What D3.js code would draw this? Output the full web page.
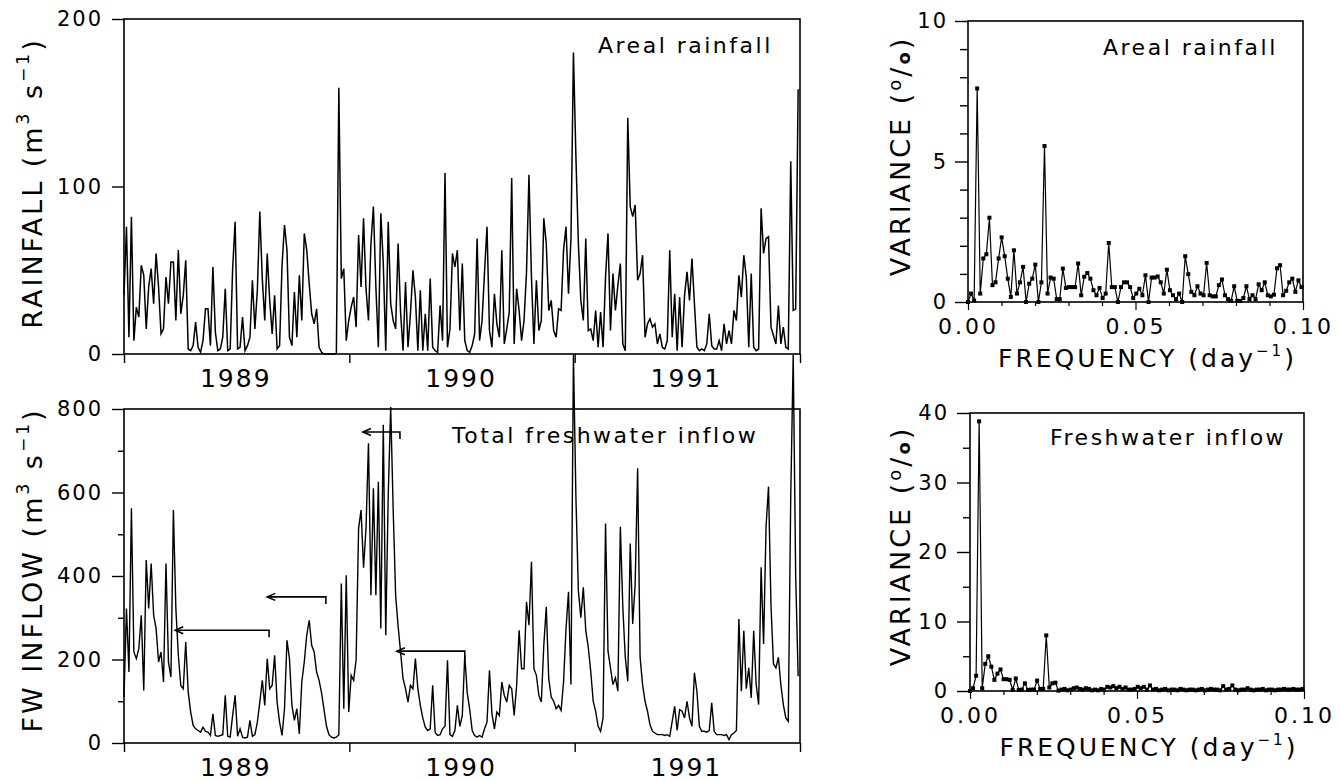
<!DOCTYPE html>
<html>
<head>
<meta charset="utf-8">
<script src="https://cdn.jsdelivr.net/npm/d3@7"></script>
<style>
  body { margin: 0; background: #fff; }
  svg text { font-family: "DejaVu Sans", sans-serif; fill: #000; }
</style>
</head>
<body>
<div id="chart"></div>
<script>
// ---- data ----
// daily series sampled every 4 days from 1 Jan 1989
const startDate = new Date(1989, 0, 1);
const stepDays = 4;

const rainfall = [
  35,76,10,82,8,28,22,53,47,15, 40,51,30,60,40,12,15,46,30,55,
  55,20,62,24,35,56,3,2,5,19, 4,1,8,27,27,5,52,13,2,3,
  10,39,2,3,51,79,3,4,22,2, 5,10,44,15,38,85,45,20,60,32,
  12,35,3,5,53,77,62,10,5,37, 10,47,20,72,62,42,24,18,27,4,
  1,0,0,0,0,0,0,159,45,51, 8,20,28,34,16,71,40,81,39,20,
  66,88,40,4,84,54,2,79,30,20, 15,66,25,2,43,4,24,50,34,2,
  38,2,24,2,45,4,2,1,29,8, 108,4,15,60,52,62,14,54,8,2,
  1,5,12,69,8,20,49,76,14,4, 36,18,10,62,6,15,25,105,6,39,
  26,8,20,49,107,46,6,44,14,20, 81,66,26,32,14,10,27,26,62,76,
  36,69,180,118,66,32,20,69,14,15, 8,26,4,25,4,46,72,14,48,26,
  41,54,6,2,141,88,82,89,44,48, 59,10,18,21,16,18,6,12,4,3,
  8,62,10,36,2,34,4,35,49,32, 57,30,4,2,3,2,6,24,5,3,
  3,8,2,18,6,14,6,26,20,47, 34,59,46,4,48,4,2,3,87,60,
  69,70,16,11,6,29,6,16,4,3, 115,26,27,158
];

const inflow = [
  110,322,170,562,218,202,226,306,126,438, 322,430,306,274,194,218,146,430,194,158,
  558,322,210,138,130,242,122,74,42,34, 30,26,38,28,26,18,70,18,16,18,
  20,114,16,14,66,114,16,34,14,12, 14,54,16,20,50,98,150,90,202,130,
  138,210,98,50,18,82,246,202,90,54, 82,22,146,194,258,294,234,218,170,150,
  120,80,40,20,14,12,14,20,382,82, 402,74,162,150,200,514,558,420,514,718,
  354,610,354,626,274,762,258,594,805,560, 354,280,218,154,130,98,138,130,202,130,
  90,60,38,30,34,138,25,18,20,34, 40,198,20,16,30,90,40,66,210,120,
  80,30,18,14,18,14,34,50,174,70, 34,74,66,146,114,98,138,130,66,138,
  270,178,178,338,282,434,178,162,114,98, 234,326,154,110,100,82,90,78,146,274,
  362,140,930,590,365,300,373,269,230,172, 100,76,40,28,60,526,220,180,140,156,
  124,518,325,205,148,478,285,381,658,205, 140,100,76,44,28,24,20,20,20,18,
  20,16,52,88,30,80,76,60,100,60, 40,168,124,40,28,28,26,30,96,28,
  20,20,20,18,20,8,20,24,30,297, 124,269,130,180,108,269,140,92,421,237,
  518,614,330,190,180,205,140,92,60,52, 590,930,400,160
];

const years = [1989, 1990, 1991];
const yearBounds = [1989, 1990, 1991, 1992];
const rainTicks = [0, 100, 200];
const inflowMinorTicks = [100, 300, 500, 700];
const inflowMajorTicks = [0, 200, 400, 600, 800];

// lag arrows on the inflow panel (day of record, m3/s level)
const arrowFrom = [235, 327, 447, 552];
const arrowTo = [83, 232, 387, 442];
const arrowLevel = [270, 350, 745, 220];

// spectra, frequency step 1/1095 day^-1
const freqStep = 1 / 1095;
const rainSpectrum = [
  0,0.3,0.05,7.6,0.3,1.55,1.7,3.0,0.6,0.7, 1.55,2.3,1.63,0.83,0.18,1.84,0.3,0.7,1.25,0,
  0.65,0.83,1.33,0,0.7,5.55,0.3,0.87,0.83,0.1, 0.1,1.19,0.5,0.53,0.53,0.53,1.37,0.24,0.9,1.03,
  0.83,0.42,0.24,0.5,0.14,0.3,2.1,0.53,0.53,0, 0.53,0.7,0.7,0.53,0.14,0.3,0.47,0.24,0.95,0,
  0.87,0.87,0.91,0.7,0.3,1.15,0.42,0.24,0.1,0.3, 0,1.63,0.99,0.36,0.24,0.56,0.3,0.24,1.39,0.24,
  0.2,0.2,0.6,0.8,0.24,0.1,0.04,0.56,0.04,0.04, 0.14,0.56,0.1,0.24,0.1,0.63,0.42,0.7,0.24,0.2,
  0.26,1.2,1.31,0.24,0.4,0.7,0.83,0.36,0.77,0.53
];
const inflowSpectrum = [
  0,0.4,2.2,38.8,0.4,3.9,5.0,3.5,1.6,2.5, 3.1,1.7,1.7,1.6,0.15,1.8,0.15,0.2,1.1,0.15,
  0.2,0.2,1.5,0.3,0.3,8.0,0.5,1.1,1.2,0.05, 0.2,0.3,0.1,0.2,0.4,0.5,0.3,0.2,0.4,0.3,
  0.1,0.2,0.1,0.3,0.2,0.6,0.5,0.7,0.4,0.6, 0.3,0.5,0.2,0.2,0.3,0.6,0.4,0.6,0.2,0.8,
  0.2,0.3,0.1,0.2,0.3,0.1,0.2,0.2,0.1,0.3, 0.2,0.1,0.2,0.2,0.1,0.2,0.3,0.1,0.2,0.3,
  0.2,0.2,0.1,0.7,0.2,0.3,0.8,0.2,0.1,0.2, 0.2,0.4,0.2,0.1,0.2,0.2,0.3,0.1,0.2,0.2,
  0.1,0.2,0.2,0.3,0.2,0.2,0.3,0.2,0.2,0.3
];
const freqTicks = [0, 0.05, 0.1];
const freqMinor = [0.01, 0.02, 0.03, 0.04, 0.06, 0.07, 0.08, 0.09];
const rainVarMajor = [0, 5, 10];
const rainVarMinor = [1, 2, 3, 4, 6, 7, 8, 9];
const inflowVarMajor = [0, 10, 20, 30, 40];
const inflowVarMinor = [5, 15, 25, 35];

// ---- drawing ----
const svg = d3.select("#chart").append("svg")
    .attr("width", 1340)
    .attr("height", 781);

const dayDate = d => d3.timeDay.offset(startDate, d);
const sampleDate = i => dayDate(i * stepDays);

const xTime = d3.scaleTime()
    .domain([new Date(1989, 0, 1), new Date(1992, 0, 1)])
    .range([124, 800]);
const yRain = d3.scaleLinear().domain([0, 200]).range([354, 19]);
const yFlow = d3.scaleLinear().domain([0, 800]).range([743, 409]);
const xF1 = d3.scaleLinear().domain([0, 0.1]).range([968, 1303]);
const yV1 = d3.scaleLinear().domain([0, 10]).range([302, 21]);
const xF2 = d3.scaleLinear().domain([0, 0.1]).range([970, 1304]);
const yV2 = d3.scaleLinear().domain([0, 40]).range([691, 413]);

function frame(x, y) {
    svg.append("rect")
        .attr("x", x.range()[0]).attr("y", y.range()[1])
        .attr("width", x.range()[1] - x.range()[0])
        .attr("height", y.range()[0] - y.range()[1])
        .attr("fill", "none").attr("stroke", "#000").attr("stroke-width", 1.6);
}

function leftAxis(x, y, major, minor, majLen, minLen, pad) {
    const x0 = x.range()[0];
    if (minor.length) {
        svg.append("g").attr("transform", `translate(${x0},0)`)
            .call(d3.axisLeft(y).tickValues(minor).tickSize(minLen).tickFormat(""))
            .call(g => g.select(".domain").remove())
            .call(g => g.selectAll("line").attr("stroke-width", 1.4));
    }
    svg.append("g").attr("transform", `translate(${x0},0)`)
        .call(d3.axisLeft(y).tickValues(major).tickSize(majLen).tickPadding(pad).tickFormat(d3.format("d")))
        .call(g => g.select(".domain").remove())
        .call(g => g.selectAll("line").attr("stroke-width", 1.4))
        .call(g => g.selectAll("text").style("font-size", "21px").style("letter-spacing", "2px"));
}

function yearAxis(y) {
    const y0 = y.range()[0];
    svg.append("g").attr("transform", `translate(0,${y0})`)
        .call(d3.axisBottom(xTime).tickValues(yearBounds.map(v => new Date(v, 0, 1))).tickSize(9).tickFormat(""))
        .call(g => g.select(".domain").remove())
        .call(g => g.selectAll("line").attr("stroke-width", 1.4));
    svg.append("g").selectAll("text")
        .data(years).enter().append("text")
        .attr("x", d => xTime(new Date(d, 6, 1)))
        .attr("y", y0 + 33)
        .attr("text-anchor", "middle")
        .style("font-size", "25px").style("letter-spacing", "2px")
        .text(d => d);
}

function freqAxis(x, y) {
    const y0 = y.range()[0];
    svg.append("g").attr("transform", `translate(0,${y0})`)
        .call(d3.axisBottom(x).tickValues(freqMinor).tickSize(4).tickFormat(""))
        .call(g => g.select(".domain").remove())
        .call(g => g.selectAll("line").attr("stroke-width", 1.2));
    svg.append("g").attr("transform", `translate(0,${y0})`)
        .call(d3.axisBottom(x).tickValues(freqTicks).tickSize(8).tickPadding(8).tickFormat(d3.format(".2f")))
        .call(g => g.select(".domain").remove())
        .call(g => g.selectAll("line").attr("stroke-width", 1.2))
        .call(g => g.selectAll("text").style("font-size", "22px").style("letter-spacing", "3px"));
    const t = svg.append("text")
        .attr("x", (x.range()[0] + x.range()[1]) / 2 + 12)
        .attr("y", y0 + 65)
        .attr("text-anchor", "middle")
        .style("font-size", "25px").style("letter-spacing", "3px");
    t.append("tspan").text("FREQUENCY  (day");
    t.append("tspan").attr("dy", -11).style("font-size", "15px").text("\u22121");
    t.append("tspan").attr("dy", 11).text(")");
}

function unitsTitle(label, cx, cy) {
    const t = svg.append("text")
        .attr("transform", `translate(${cx},${cy}) rotate(-90)`)
        .attr("text-anchor", "middle")
        .style("font-size", "27px").style("letter-spacing", "3px");
    t.append("tspan").text(label + "  (m");
    t.append("tspan").attr("dy", -13).style("font-size", "17px").text("3");
    t.append("tspan").attr("dy", 13).text("  s");
    t.append("tspan").attr("dy", -13).style("font-size", "17px").text("\u22121");
    t.append("tspan").attr("dy", 13).text(")");
}

function varianceTitle(cx, cy) {
    const t = svg.append("text")
        .attr("transform", `translate(${cx},${cy}) rotate(-90)`)
        .attr("text-anchor", "middle")
        .style("font-size", "27px").style("letter-spacing", "3px");
    t.append("tspan").text("VARIANCE  (");
    t.append("tspan").attr("dy", -9).style("font-size", "18px").text("o");
    t.append("tspan").attr("dy", 9).text("/");
    t.append("tspan").style("font-size", "18px").style("font-weight", "bold").text("o");
    t.append("tspan").text(")");
}

function panelLabel(txt, x, y) {
    svg.append("text").attr("x", x).attr("y", y)
        .style("font-size", "22px").style("letter-spacing", "2.5px")
        .text(txt);
}

// --- top left: areal rainfall ---
frame(xTime, yRain);
leftAxis(xTime, yRain, rainTicks, [], 12, 6, 9);
yearAxis(yRain);
svg.append("path")
    .datum(rainfall)
    .attr("fill", "none").attr("stroke", "#000").attr("stroke-width", 1.5)
    .attr("d", d3.line().x((d, i) => xTime(sampleDate(i))).y(d => yRain(d)));
unitsTitle("RAINFALL", 42, 183);
panelLabel("Areal rainfall", 598, 53);

// --- bottom left: total freshwater inflow ---
frame(xTime, yFlow);
leftAxis(xTime, yFlow, inflowMajorTicks, inflowMinorTicks, 12, 6, 9);
yearAxis(yFlow);
svg.append("path")
    .datum(inflow)
    .attr("fill", "none").attr("stroke", "#000").attr("stroke-width", 1.4)
    .attr("d", d3.line().x((d, i) => xTime(sampleDate(i))).y(d => yFlow(d)));
unitsTitle("FW  INFLOW", 42, 570);
panelLabel("Total freshwater inflow", 452, 443);

const arrows = arrowFrom.map((f, i) => ({ from: f, to: arrowTo[i], level: arrowLevel[i] }));
const ag = svg.append("g").attr("stroke", "#000").attr("stroke-width", 1.6).attr("fill", "none");
arrows.forEach(a => {
    const xs = xTime(dayDate(a.from)), xe = xTime(dayDate(a.to)), yy = yFlow(a.level);
    ag.append("path").attr("d", `M${xs},${yy + 7}V${yy}H${xe}`);
    ag.append("path").attr("d", `M${xe + 8},${yy - 3.5}L${xe},${yy}L${xe + 8},${yy + 3.5}`);
});

// --- top right: rainfall spectrum ---
frame(xF1, yV1);
leftAxis(xF1, yV1, rainVarMajor, rainVarMinor, 13, 8, 7);
freqAxis(xF1, yV1);
svg.append("path")
    .datum(rainSpectrum)
    .attr("fill", "none").attr("stroke", "#000").attr("stroke-width", 1.2)
    .attr("d", d3.line().x((d, i) => xF1(i * freqStep)).y(d => yV1(d)));
svg.append("g").selectAll("rect")
    .data(rainSpectrum).enter().append("rect")
    .attr("x", (d, i) => xF1(i * freqStep) - 2)
    .attr("y", d => yV1(d) - 2)
    .attr("width", 4).attr("height", 4).attr("fill", "#000");
varianceTitle(910, 156);
panelLabel("Areal rainfall", 1103, 55);

// --- bottom right: inflow spectrum ---
frame(xF2, yV2);
leftAxis(xF2, yV2, inflowVarMajor, inflowVarMinor, 13, 7, 8);
freqAxis(xF2, yV2);
svg.append("path")
    .datum(inflowSpectrum)
    .attr("fill", "none").attr("stroke", "#000").attr("stroke-width", 1.2)
    .attr("d", d3.line().x((d, i) => xF2(i * freqStep)).y(d => yV2(d)));
svg.append("g").selectAll("rect")
    .data(inflowSpectrum).enter().append("rect")
    .attr("x", (d, i) => xF2(i * freqStep) - 2)
    .attr("y", d => yV2(d) - 2)
    .attr("width", 4).attr("height", 4).attr("fill", "#000");
varianceTitle(910, 546);
panelLabel("Freshwater inflow", 1050, 445);
</script>
</body>
</html>
